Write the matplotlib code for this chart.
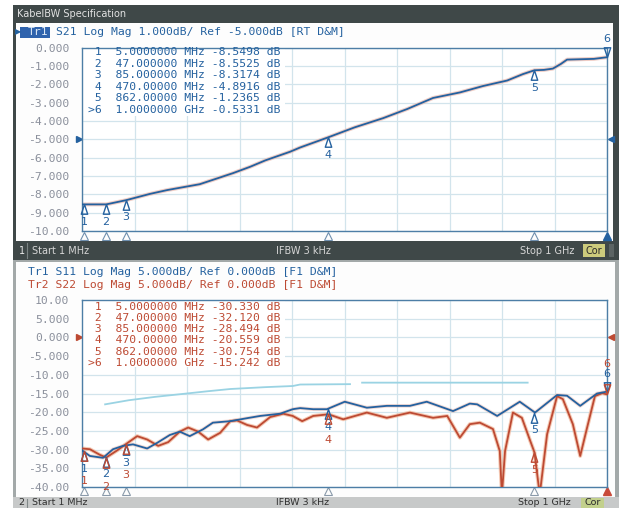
import numpy as np
import matplotlib
matplotlib.use('Agg')
import matplotlib.pyplot as plt
from matplotlib.patches import Rectangle
from matplotlib.path import Path
import matplotlib.transforms as mtransforms

# ---- data (frequency in MHz, level in dB) ----
s21_f = [1, 5, 47, 85, 130, 163, 225, 288, 321, 350, 397, 416, 470, 520, 574, 620,
         669, 720, 764, 810, 840, 862, 880, 897, 912, 924, 950, 975, 1000]
s21_db = [-8.55, -8.55, -8.55, -8.32, -7.98, -7.77, -7.45, -6.85, -6.5, -6.15, -5.68,
          -5.45, -4.89, -4.35, -3.85, -3.35, -2.75, -2.45, -2.1, -1.8, -1.45, -1.24,
          -1.22, -1.15, -0.9, -0.66, -0.64, -0.62, -0.53]

s11_f = [1, 16, 41, 60, 79, 98, 125, 144, 168, 187, 206, 231, 250, 283, 315, 340, 378,
         402, 416, 441, 467, 501, 543, 581, 625, 657, 707, 739, 753, 791, 834, 863,
         905, 924, 949, 981, 1000]
s11_db = [-30.2, -31.7, -32.2, -29.9, -29.0, -28.6, -29.7, -28.2, -26.1, -25.2, -26.4,
          -24.6, -22.8, -22.4, -21.6, -21.0, -20.4, -19.2, -18.9, -19.2, -19.2, -17.2,
          -18.8, -18.3, -18.3, -17.2, -19.7, -17.7, -17.9, -21.0, -17.2, -20.1, -15.4,
          -15.6, -18.3, -15.0, -14.5]

s22_f = [1, 16, 35, 47, 68, 85, 106, 125, 146, 165, 187, 203, 222, 241, 264, 283, 296,
         315, 334, 359, 384, 402, 420, 441, 470, 498, 543, 581, 625, 669, 696, 720,
         739, 758, 783, 796, 800, 806, 821, 838, 854, 862, 872, 886, 905, 916, 935,
         949, 962, 977, 991, 1000]
s22_db = [-29.7, -29.9, -31.4, -32.12, -30.2, -28.49, -26.4, -27.3, -29.0, -28.0, -25.2,
          -24.1, -25.2, -27.3, -25.5, -22.4, -22.2, -23.4, -24.1, -21.3, -20.4, -21.0,
          -22.4, -21.0, -20.56, -21.9, -20.1, -21.5, -20.1, -21.5, -21.0, -26.8, -23.2,
          -22.8, -24.5, -30.4, -42.0, -30.4, -20.1, -21.5, -27.7, -30.75, -42.0, -25.9,
          -15.7, -16.5, -23.2, -31.7, -24.2, -15.7, -14.9, -15.24]

limit_f = [45, 90, 140, 187, 240, 283, 350, 402, 416, 511, np.nan, 534, 849]
limit_db = [-17.9, -16.8, -15.9, -15.2, -14.4, -13.8, -13.3, -13.0, -12.6, -12.5, np.nan,
            -12.1, -12.1]

mk_f = [5, 47, 85, 470, 862, 1000]
mk_lbl = ['1', '2', '3', '4', '5', '6']
s21_mk = [-8.5498, -8.5525, -8.3174, -4.8916, -1.2365, -0.5331]
s22_mk = [-30.330, -32.120, -28.494, -20.559, -30.754, -15.242]
s11_mk = [-30.5, -32.0, -28.9, -19.2, -20.2, -14.5]

top_ticks = np.arange(0, -11, -1)
top_tlbl = ['0.000', '-1.000', '-2.000', '-3.000', '-4.000', '-5.000', '-6.000',
            '-7.000', '-8.000', '-9.000', '-10.00']
bot_ticks = np.arange(10, -45, -5)
bot_tlbl = ['10.00', '5.000', '0.000', '-5.000', '-10.00', '-15.00', '-20.00',
            '-25.00', '-30.00', '-35.00', '-40.00']

top_table = [' 1  5.0000000 MHz -8.5498 dB', ' 2  47.000000 MHz -8.5525 dB',
             ' 3  85.000000 MHz -8.3174 dB', ' 4  470.00000 MHz -4.8916 dB',
             ' 5  862.00000 MHz -1.2365 dB', '>6  1.0000000 GHz -0.5331 dB']
bot_table = [' 1  5.0000000 MHz -30.330 dB', ' 2  47.000000 MHz -32.120 dB',
             ' 3  85.000000 MHz -28.494 dB', ' 4  470.00000 MHz -20.559 dB',
             ' 5  862.00000 MHz -30.754 dB', '>6  1.0000000 GHz -15.242 dB']

BLUE = '#24619f'
RED = '#bd4a33'
MONO = 'DejaVu Sans Mono'
W, H = 619, 508

fig = plt.figure(figsize=(W / 100, H / 100), dpi=100)
fig.patch.set_facecolor('white')


def fx(x):
    return x / W


def fy(y):
    return 1 - y / H


def box(x0, y0, x1, y1, color, z=-1):
    fig.patches.append(Rectangle((fx(x0), fy(y1)), (x1 - x0) / W, (y1 - y0) / H,
                                 transform=fig.transFigure, facecolor=color,
                                 edgecolor='none', zorder=z))


def txt(x, y, s, **kw):
    fig.text(fx(x), fy(y), s, va='center', **kw)


# frame, bars
DARK = '#3f4848'
box(13, 5, 619, 23, DARK)
box(13, 23, 16, 260, DARK)
box(613, 23, 619, 260, DARK)
box(16, 23, 613, 241, '#fdfdfd')
box(13, 241, 619, 260, DARK)
box(13, 260, 619, 497, '#a3a9a9')
box(16, 262, 615, 497, '#fdfdfd')
box(13, 497, 619, 508, '#c7c9c9')

txt(17, 14, 'KabelBW Specification', color='#e2e2e2', fontsize=7)

# status bars
txt(19, 250.5, '1', color='#e8e8e8', fontsize=7)
fig.add_artist(plt.Line2D([fx(27), fx(27)], [fy(243), fy(258)], color='#7a8282', lw=0.8))
txt(32, 250.5, 'Start 1 MHz', color='#d6d6d6', fontsize=7)
txt(303, 250.5, 'IFBW 3 kHz', color='#d6d6d6', fontsize=7, ha='center')
txt(574, 250.5, 'Stop 1 GHz', color='#d6d6d6', fontsize=7, ha='right')
box(583, 244, 605, 257, '#cccb7c', z=1)
txt(594, 250.5, 'Cor', color='#2a2a2a', fontsize=7, ha='center')
box(609, 244, 614, 257, '#5c6464', z=1)

txt(18, 502.5, '2', color='#303030', fontsize=6.8)
fig.add_artist(plt.Line2D([fx(27), fx(27)], [fy(499), fy(508)], color='#808888', lw=0.8))
txt(32, 502.5, 'Start 1 MHz', color='#303030', fontsize=6.8)
txt(303, 502.5, 'IFBW 3 kHz', color='#303030', fontsize=6.8, ha='center')
txt(571, 502.5, 'Stop 1 GHz', color='#303030', fontsize=6.8, ha='right')
box(581, 498, 604, 508, '#c2d08c', z=1)
txt(592.5, 502.5, 'Cor', color='#2a2a2a', fontsize=6.8, ha='center')

# headers
txt(14.5, 32, '\u25b6', color=BLUE, fontsize=6)
box(20, 26.5, 50, 37.5, '#2f63ad', z=1)
txt(28.2, 32, 'Tr1', color='#dce8f5', fontsize=8.2, family=MONO)
txt(56, 32, 'S21 Log Mag 1.000dB/ Ref -5.000dB [RT D&M]', color=BLUE,
    fontsize=8.2, family=MONO)
txt(28.5, 272, 'Tr1 S11 Log Mag 5.000dB/ Ref 0.000dB [F1 D&M]', color=BLUE,
    fontsize=8.2, family=MONO)
txt(28.5, 285, 'Tr2 S22 Log Mag 5.000dB/ Ref 0.000dB [F1 D&M]', color=RED,
    fontsize=8.2, family=MONO)

for i, row in enumerate(top_table):
    txt(88, 52.3 + 11.5 * i, row, color=BLUE, fontsize=8.2, family=MONO)
for i, row in enumerate(bot_table):
    txt(88, 306.5 + 11.3 * i, row, color=RED, fontsize=8.2, family=MONO)

ax1 = fig.add_axes([fx(82), fy(231), 525 / W, 183.5 / H])
ax2 = fig.add_axes([fx(82), fy(487), 525 / W, 187 / H])

up_tri = Path([(0, 0), (-0.33, -1), (0.33, -1), (0, 0)],
              [Path.MOVETO, Path.LINETO, Path.LINETO, Path.CLOSEPOLY])
dn_tri = Path([(0, 0), (-0.33, 1), (0.33, 1), (0, 0)],
              [Path.MOVETO, Path.LINETO, Path.LINETO, Path.CLOSEPOLY])


def setup(ax, ticks, tlbl, ylim):
    ax.set_xlim(1, 1000)
    ax.set_ylim(*ylim)
    ax.set_facecolor('white')
    ax.set_xticks(np.linspace(1, 1000, 11))
    ax.set_xticklabels([])
    ax.set_yticks(ticks)
    ax.set_yticklabels(tlbl, fontfamily=MONO)
    ax.tick_params(length=0, pad=9, labelsize=8.2, labelcolor='#8b909c')
    ax.grid(True, color='#d2e4ec', lw=0.9)
    ax.set_axisbelow(True)
    for s in ax.spines.values():
        s.set_color('#4d7ea6')
        s.set_linewidth(1.0)


def markers(ax, f, v, color, extra=None):
    # extra: additional label offset (points) per marker, to stack labels
    for i, (x, y) in enumerate(zip(f, v)):
        last = i == len(f) - 1
        off = 13 if last else -12.5
        if extra is not None:
            off += extra[i]
        ax.plot([x], [y], marker=dn_tri if last else up_tri, ms=14, mfc='none',
                mec=color, mew=1.0, ls='none', clip_on=False, zorder=5)
        ax.annotate(mk_lbl[i], (x, y), xytext=(0, off),
                    textcoords='offset points', ha='center', va='center',
                    fontsize=8, color=color, annotation_clip=False, zorder=5)


def bottom_row(ax, fill, edge, dy):
    tr = mtransforms.blended_transform_factory(ax.transData, ax.transAxes)
    ax.plot(mk_f[:-1], [dy] * 5, marker='^', ms=6, mfc='none', mec=edge, mew=0.8,
            ls='none', transform=tr, clip_on=False)
    ax.plot(mk_f[-1:], [dy], marker='^', ms=6, mfc=fill, mec=fill, ls='none',
            transform=tr, clip_on=False)


def ref_arrows(ax, level, color):
    tr = mtransforms.blended_transform_factory(ax.transAxes, ax.transData)
    ax.plot([-0.006], [level], marker='>', ms=5, color=color, transform=tr, clip_on=False)
    ax.plot([1.008], [level], marker='<', ms=5, color=color, transform=tr, clip_on=False)


# top: S21
setup(ax1, top_ticks, top_tlbl, (-10, 0))
ax1.add_patch(Rectangle((0, 1 - 0.373), 0.387, 0.373, transform=ax1.transAxes,
                        facecolor='white', edgecolor='none', zorder=1.5))
ax1.plot(s21_f, s21_db, color='#eab9ad', lw=2.8, alpha=0.7, zorder=2)
ax1.plot(s21_f, s21_db, color=BLUE, lw=1.3, zorder=3)
markers(ax1, mk_f, s21_mk, BLUE)
bottom_row(ax1, BLUE, '#6f8fae', -0.025)
ref_arrows(ax1, -5, BLUE)

# bottom: S11 / S22
setup(ax2, bot_ticks, bot_tlbl, (-40, 10))
ax2.add_patch(Rectangle((0, 1 - 0.36), 0.387, 0.36, transform=ax2.transAxes,
                        facecolor='white', edgecolor='none', zorder=1.5))
ax2.plot(limit_f, limit_db, color='#9ad3e3', lw=1.3, zorder=2)
ax2.plot(s22_f, s22_db, color='#f0b294', lw=2.8, alpha=0.7, zorder=2)
ax2.plot(s22_f, s22_db, color=RED, lw=1.3, zorder=3)
ax2.plot(s11_f, s11_db, color='#e6b6ac', lw=2.6, alpha=0.5, zorder=2)
ax2.plot(s11_f, s11_db, color=BLUE, lw=1.3, zorder=3)
markers(ax2, mk_f, s11_mk, BLUE)
markers(ax2, mk_f, s22_mk, RED, extra=[-9, -9, -10, -6, 0, 9])
bottom_row(ax2, '#c84a3a', '#8a9aaa', -0.02)
ref_arrows(ax2, 0, RED)

fig.savefig('out.png', dpi=100)
